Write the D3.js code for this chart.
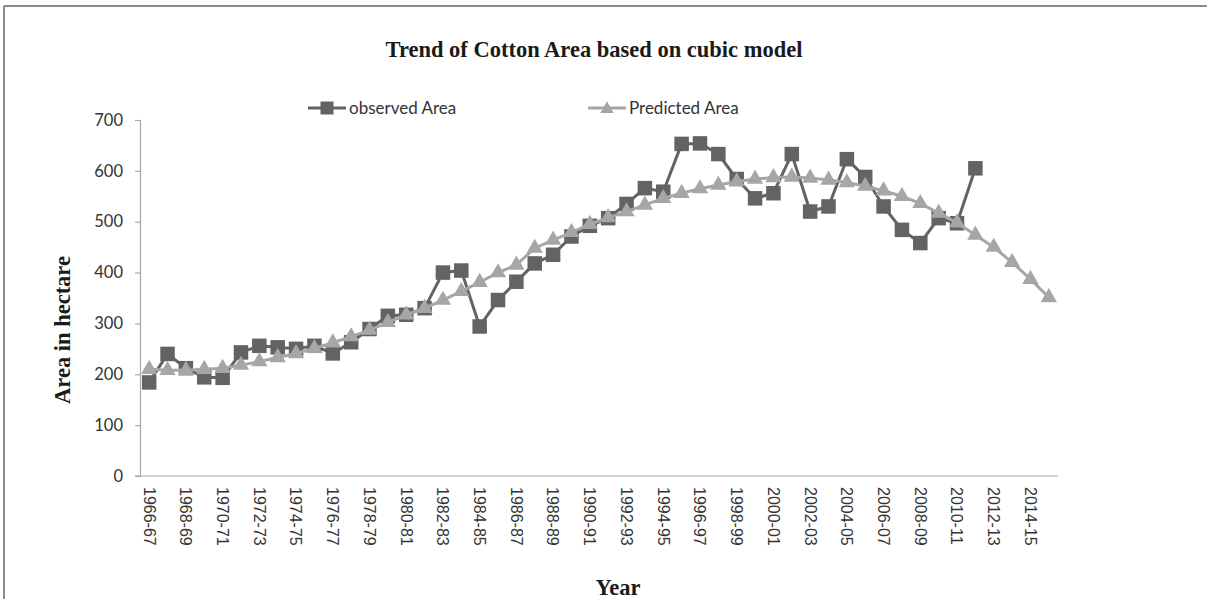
<!DOCTYPE html>
<html>
<head>
<meta charset="utf-8">
<script src="https://cdn.jsdelivr.net/npm/d3@7"></script>
<style>
  html, body { margin: 0; padding: 0; background: #ffffff; }
  svg { display: block; }
</style>
</head>
<body>
<svg id="chart" width="1207" height="599"></svg>
<script>
// Crop years, 1966-67 through 2015-16
const years = [
  "1966-67","1967-68","1968-69","1969-70","1970-71","1971-72","1972-73","1973-74","1974-75","1975-76",
  "1976-77","1977-78","1978-79","1979-80","1980-81","1981-82","1982-83","1983-84","1984-85","1985-86",
  "1986-87","1987-88","1988-89","1989-90","1990-91","1991-92","1992-93","1993-94","1994-95","1995-96",
  "1996-97","1997-98","1998-99","1999-00","2000-01","2001-02","2002-03","2003-04","2004-05","2005-06",
  "2006-07","2007-08","2008-09","2009-10","2010-11","2011-12","2012-13","2013-14","2014-15","2015-16"
];

// Observed cotton area (up to 2011-12)
const observedArea = [
  184, 240, 212, 194, 193, 243, 256, 253, 250, 256,
  241, 263, 289, 315, 317, 330, 400, 404, 294, 346,
  382, 418, 435, 471, 492, 507, 535, 566, 559, 653,
  654, 633, 584, 546, 556, 633, 520, 530, 623, 588,
  530, 484, 458, 507, 497, 605
];

// Cubic trend fit, extended to 2015-16
const predictedArea = [
  210, 208, 208, 210, 212, 218, 225, 233, 241, 251,
  262, 274, 287, 302, 317, 330, 346, 363, 381, 400,
  415, 448, 464, 479, 495, 508, 520, 533, 546, 556,
  565, 572, 579, 584, 587, 588, 586, 582, 577, 570,
  561, 550, 536, 517, 498, 474, 450, 420, 387, 351
];

const yTicks = [0, 100, 200, 300, 400, 500, 600, 700];

const svg = d3.select("#chart");

// Outer frame
svg.append("line").attr("x1", 4).attr("x2", 1207).attr("y1", 6).attr("y2", 6)
  .attr("stroke", "#8a8a8a").attr("stroke-width", 2);
svg.append("line").attr("x1", 4).attr("x2", 4).attr("y1", 6).attr("y2", 599)
  .attr("stroke", "#8a8a8a").attr("stroke-width", 2);

const plot = { left: 140, right: 1058, top: 120, bottom: 476 };

const x = d3.scaleBand().domain(years).range([plot.left, plot.right]).padding(0);
const cx = d => x(d) + x.bandwidth() / 2;
const y = d3.scaleLinear().domain([0, 700]).range([plot.bottom, plot.top]);

const serif = "'Liberation Serif', 'Times New Roman', serif";
const sans = "Lato, 'Open Sans', sans-serif";

// Title
svg.append("text")
  .attr("x", 594).attr("y", 57)
  .attr("text-anchor", "middle")
  .attr("font-family", serif)
  .attr("font-weight", "bold")
  .attr("font-size", 22.5)
  .attr("fill", "#1a1a1a")
  .text("Trend of Cotton Area based on cubic model");

// Y axis
const yAxis = svg.append("g")
  .attr("transform", `translate(${plot.left},0)`)
  .call(d3.axisLeft(y).tickValues(yTicks).tickSize(5).tickPadding(12).tickFormat(d3.format("d")));
yAxis.select(".domain").attr("stroke", "#a8a8a8").attr("stroke-width", 1.2);
yAxis.selectAll(".tick line").attr("stroke", "#a8a8a8").attr("stroke-width", 1.2);
yAxis.selectAll(".tick text")
  .attr("font-family", sans)
  .attr("font-size", 16.5)
  .attr("fill", "#333");

// X axis (line only; labels on every other year)
svg.append("line")
  .attr("x1", plot.left - 5).attr("x2", plot.right)
  .attr("y1", plot.bottom).attr("y2", plot.bottom)
  .attr("stroke", "#a8a8a8").attr("stroke-width", 1.2);

svg.append("g").selectAll("text")
  .data(years.filter((d, i) => i % 2 === 0))
  .join("text")
  .attr("transform", d => `translate(${cx(d)},${plot.bottom + 11}) rotate(90)`)
  .attr("dy", "0.35em")
  .attr("text-anchor", "start")
  .attr("font-family", "'Liberation Sans', Arial, sans-serif")
  .attr("font-size", 16)
  .attr("fill", "#333")
  .text(d => d);

// Axis titles
svg.append("text")
  .attr("transform", `translate(70,330) rotate(-90)`)
  .attr("text-anchor", "middle")
  .attr("font-family", serif)
  .attr("font-weight", "bold")
  .attr("font-size", 22.5)
  .attr("fill", "#1a1a1a")
  .text("Area in hectare");

svg.append("text")
  .attr("x", 618).attr("y", 595)
  .attr("text-anchor", "middle")
  .attr("font-family", serif)
  .attr("font-weight", "bold")
  .attr("font-size", 22.5)
  .attr("fill", "#1a1a1a")
  .text("Year");

const obsColor = "#636363";
const predColor = "#a6a6a6";

const line = d3.line().x((d, i) => cx(years[i])).y(d => y(d));

// Observed series
svg.append("path")
  .datum(observedArea)
  .attr("fill", "none")
  .attr("stroke", obsColor)
  .attr("stroke-width", 3)
  .attr("stroke-linejoin", "round")
  .attr("d", line);

const sq = 14.5;
svg.append("g").selectAll("rect")
  .data(observedArea)
  .join("rect")
  .attr("x", (d, i) => cx(years[i]) - sq / 2)
  .attr("y", d => y(d) - sq / 2)
  .attr("width", sq).attr("height", sq)
  .attr("fill", obsColor);

// Predicted series
svg.append("path")
  .datum(predictedArea)
  .attr("fill", "none")
  .attr("stroke", predColor)
  .attr("stroke-width", 3)
  .attr("stroke-linejoin", "round")
  .attr("d", line);

const tri = d3.symbol().type(d3.symbolTriangle).size(115);
svg.append("g").selectAll("path")
  .data(predictedArea)
  .join("path")
  .attr("transform", (d, i) => `translate(${cx(years[i])},${y(d)})`)
  .attr("d", tri)
  .attr("fill", predColor);

// Legend
const legend = [
  { label: "observed Area", color: obsColor, shape: "square", x: 308 },
  { label: "Predicted Area", color: predColor, shape: "triangle", x: 588 }
];
const lg = svg.append("g");
legend.forEach(l => {
  const g = lg.append("g").attr("transform", `translate(${l.x},108)`);
  g.append("line").attr("x1", 0).attr("x2", 38).attr("y1", 0).attr("y2", 0)
    .attr("stroke", l.color).attr("stroke-width", 3);
  if (l.shape === "square") {
    g.append("rect").attr("x", 19 - 6.5).attr("y", -6.5).attr("width", 13).attr("height", 13)
      .attr("fill", l.color);
  } else {
    g.append("path").attr("transform", "translate(19,1)")
      .attr("d", d3.symbol().type(d3.symbolTriangle).size(80)).attr("fill", l.color);
  }
  g.append("text").attr("x", 41).attr("y", 0).attr("dy", "0.35em")
    .attr("font-family", sans)
    .attr("font-size", 17)
    .attr("fill", "#333")
    .text(l.label);
});
</script>
</body>
</html>
